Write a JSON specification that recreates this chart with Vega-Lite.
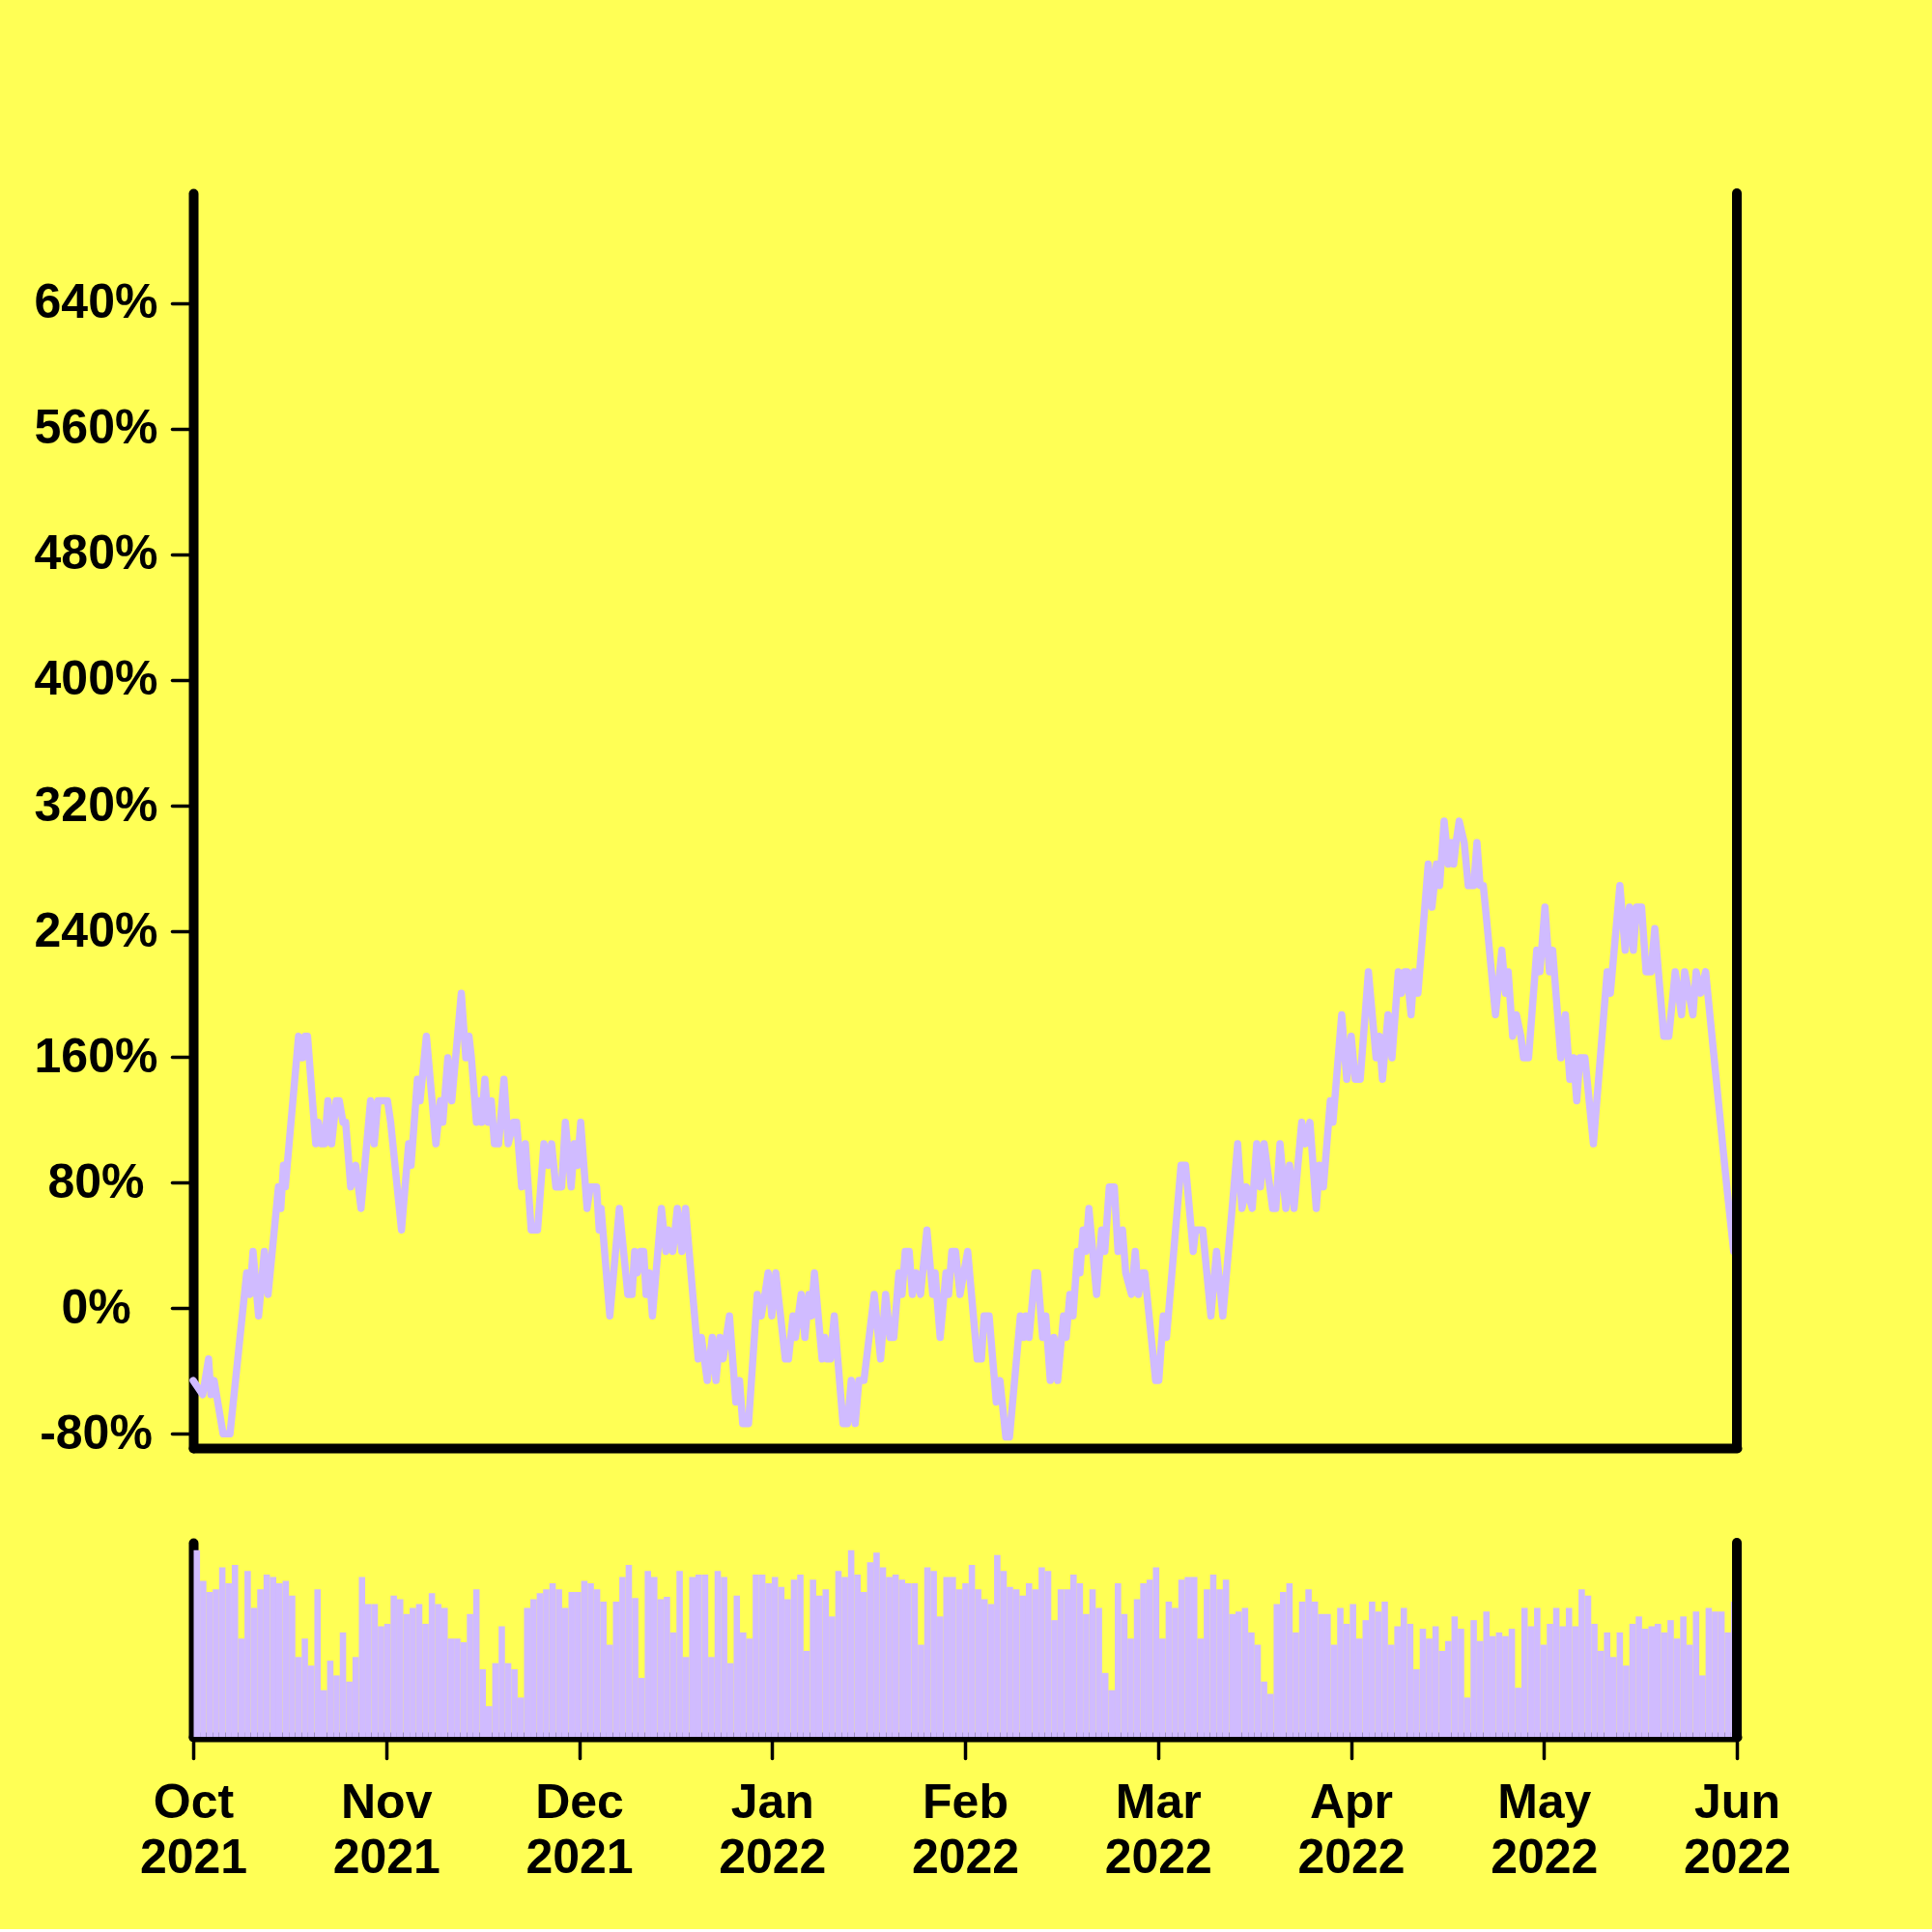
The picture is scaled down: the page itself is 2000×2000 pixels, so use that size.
{
  "$schema": "https://vega.github.io/schema/vega-lite/v6.json",
  "background": "#ffff55",
  "padding": {"left": 35, "top": 195, "right": 146, "bottom": 49},
  "spacing": 98,
  "bounds": "flush",
  "config": {
    "view": {"stroke": null},
    "font": "Liberation Sans",
    "axis": {
      "labelFont": "Liberation Sans",
      "labelFontSize": 50,
      "labelFontWeight": "bold",
      "labelColor": "black",
      "domainColor": "black",
      "domainWidth": 10,
      "domainCap": "round",
      "tickColor": "black",
      "tickWidth": 3.5,
      "tickSize": 22,
      "tickCap": "round",
      "grid": false,
      "title": null,
      "zindex": 1
    }
  },
  "vconcat": [
    {
      "width": 1598,
      "height": 1299,
      "layer": [
        {
          "data": {
            "format": {"parse": {"t": "date:'%Y-%m-%d %H'"}},
            "values": [
              {"t": "2021-10-01 00", "v": -46}, {"t": "2021-10-02 12", "v": -55}, {"t": "2021-10-03 10", "v": -32.3}, {"t": "2021-10-03 19", "v": -55}, {"t": "2021-10-04 07", "v": -46}, {"t": "2021-10-05 17", "v": -80}, {"t": "2021-10-06 19", "v": -80}, {"t": "2021-10-09 10", "v": 22.5}, {"t": "2021-10-09 22", "v": 8.8}, {"t": "2021-10-10 10", "v": 36.2}, {"t": "2021-10-11 07", "v": -4.9}, {"t": "2021-10-12 05", "v": 36.2}, {"t": "2021-10-12 19", "v": 8.8}, {"t": "2021-10-14 10", "v": 77.3}, {"t": "2021-10-14 19", "v": 63.6}, {"t": "2021-10-15 05", "v": 91}, {"t": "2021-10-15 12", "v": 77.3}, {"t": "2021-10-17 14", "v": 173.2}, {"t": "2021-10-18 05", "v": 159.5}, {"t": "2021-10-18 14", "v": 173.2}, {"t": "2021-10-19 00", "v": 173.2}, {"t": "2021-10-20 07", "v": 104.7}, {"t": "2021-10-20 17", "v": 118.4}, {"t": "2021-10-21 05", "v": 104.7}, {"t": "2021-10-21 17", "v": 104.7}, {"t": "2021-10-22 05", "v": 132.1}, {"t": "2021-10-22 19", "v": 104.7}, {"t": "2021-10-23 12", "v": 132.1}, {"t": "2021-10-24 00", "v": 132.1}, {"t": "2021-10-24 14", "v": 118.4}, {"t": "2021-10-25 00", "v": 118.4}, {"t": "2021-10-25 19", "v": 77.3}, {"t": "2021-10-26 14", "v": 91}, {"t": "2021-10-27 10", "v": 63.6}, {"t": "2021-10-28 22", "v": 132.1}, {"t": "2021-10-29 12", "v": 104.7}, {"t": "2021-10-30 02", "v": 132.1}, {"t": "2021-10-31 14", "v": 132.1},
              {"t": "2021-11-01 02", "v": 118.4}, {"t": "2021-11-02 19", "v": 49.9}, {"t": "2021-11-03 22", "v": 104.7}, {"t": "2021-11-04 07", "v": 91}, {"t": "2021-11-05 07", "v": 145.8}, {"t": "2021-11-05 17", "v": 132.1}, {"t": "2021-11-06 17", "v": 173.2}, {"t": "2021-11-08 05", "v": 104.7}, {"t": "2021-11-08 22", "v": 132.1}, {"t": "2021-11-09 07", "v": 118.4}, {"t": "2021-11-10 02", "v": 159.5}, {"t": "2021-11-10 17", "v": 132.1}, {"t": "2021-11-12 05", "v": 200.6}, {"t": "2021-11-12 22", "v": 159.5}, {"t": "2021-11-13 10", "v": 173.2}, {"t": "2021-11-13 19", "v": 159.5}, {"t": "2021-11-14 14", "v": 118.4}, {"t": "2021-11-15 02", "v": 132.1}, {"t": "2021-11-15 10", "v": 118.4}, {"t": "2021-11-15 22", "v": 145.8}, {"t": "2021-11-16 10", "v": 118.4}, {"t": "2021-11-16 22", "v": 132.1}, {"t": "2021-11-17 10", "v": 104.7}, {"t": "2021-11-18 02", "v": 104.7}, {"t": "2021-11-18 22", "v": 145.8}, {"t": "2021-11-19 14", "v": 104.7}, {"t": "2021-11-20 10", "v": 118.4}, {"t": "2021-11-20 22", "v": 118.4}, {"t": "2021-11-21 17", "v": 77.3}, {"t": "2021-11-22 07", "v": 104.7}, {"t": "2021-11-23 05", "v": 49.9}, {"t": "2021-11-24 05", "v": 49.9}, {"t": "2021-11-25 05", "v": 104.7}, {"t": "2021-11-25 22", "v": 91}, {"t": "2021-11-26 10", "v": 104.7}, {"t": "2021-11-27 02", "v": 77.3}, {"t": "2021-11-28 00", "v": 77.3}, {"t": "2021-11-28 14", "v": 118.4}, {"t": "2021-11-29 12", "v": 77.3}, {"t": "2021-11-30 00", "v": 104.7}, {"t": "2021-11-30 12", "v": 91},
              {"t": "2021-12-01 00", "v": 118.4}, {"t": "2021-12-02 00", "v": 63.6}, {"t": "2021-12-02 12", "v": 77.3}, {"t": "2021-12-03 12", "v": 77.3}, {"t": "2021-12-03 22", "v": 49.9}, {"t": "2021-12-04 05", "v": 63.6}, {"t": "2021-12-05 14", "v": -4.9}, {"t": "2021-12-07 02", "v": 63.6}, {"t": "2021-12-08 10", "v": 8.8}, {"t": "2021-12-09 02", "v": 8.8}, {"t": "2021-12-09 12", "v": 36.2}, {"t": "2021-12-09 22", "v": 22.5}, {"t": "2021-12-10 10", "v": 36.2}, {"t": "2021-12-10 22", "v": 36.2}, {"t": "2021-12-11 07", "v": 8.8}, {"t": "2021-12-11 19", "v": 22.5}, {"t": "2021-12-12 07", "v": -4.9}, {"t": "2021-12-13 17", "v": 63.6}, {"t": "2021-12-14 10", "v": 36.2}, {"t": "2021-12-14 19", "v": 49.9}, {"t": "2021-12-15 12", "v": 36.2}, {"t": "2021-12-16 05", "v": 63.6}, {"t": "2021-12-16 22", "v": 36.2}, {"t": "2021-12-17 12", "v": 63.6}, {"t": "2021-12-19 12", "v": -32.3}, {"t": "2021-12-20 00", "v": -18.6}, {"t": "2021-12-20 22", "v": -46}, {"t": "2021-12-21 17", "v": -18.6}, {"t": "2021-12-22 07", "v": -46}, {"t": "2021-12-22 22", "v": -18.6}, {"t": "2021-12-23 10", "v": -32.3}, {"t": "2021-12-23 22", "v": -18.6}, {"t": "2021-12-24 10", "v": -4.9}, {"t": "2021-12-25 10", "v": -59.7}, {"t": "2021-12-26 00", "v": -46}, {"t": "2021-12-26 12", "v": -73.4}, {"t": "2021-12-27 10", "v": -73.4}, {"t": "2021-12-28 19", "v": 8.8}, {"t": "2021-12-29 10", "v": -4.9}, {"t": "2021-12-30 00", "v": 8.8}, {"t": "2021-12-30 12", "v": 22.5}, {"t": "2021-12-31 02", "v": -4.9}, {"t": "2021-12-31 17", "v": 22.5},
              {"t": "2022-01-02 05", "v": -32.3}, {"t": "2022-01-02 17", "v": -32.3}, {"t": "2022-01-03 10", "v": -4.9}, {"t": "2022-01-03 19", "v": -18.6}, {"t": "2022-01-04 17", "v": 8.8}, {"t": "2022-01-05 07", "v": -18.6}, {"t": "2022-01-05 22", "v": 8.8}, {"t": "2022-01-06 07", "v": -4.9}, {"t": "2022-01-06 19", "v": 22.5}, {"t": "2022-01-08 00", "v": -32.3}, {"t": "2022-01-08 10", "v": -18.6}, {"t": "2022-01-08 19", "v": -32.3}, {"t": "2022-01-09 07", "v": -32.3}, {"t": "2022-01-09 22", "v": -4.9}, {"t": "2022-01-11 07", "v": -73.4}, {"t": "2022-01-12 00", "v": -73.4}, {"t": "2022-01-12 14", "v": -46}, {"t": "2022-01-13 05", "v": -73.4}, {"t": "2022-01-13 19", "v": -46}, {"t": "2022-01-14 14", "v": -46}, {"t": "2022-01-16 05", "v": 8.8}, {"t": "2022-01-17 05", "v": -32.3}, {"t": "2022-01-18 00", "v": 8.8}, {"t": "2022-01-18 17", "v": -18.6}, {"t": "2022-01-19 07", "v": -18.6}, {"t": "2022-01-20 02", "v": 22.5}, {"t": "2022-01-20 14", "v": 8.8}, {"t": "2022-01-21 02", "v": 36.2}, {"t": "2022-01-21 17", "v": 36.2}, {"t": "2022-01-22 05", "v": 8.8}, {"t": "2022-01-22 19", "v": 22.5}, {"t": "2022-01-23 12", "v": 8.8}, {"t": "2022-01-24 12", "v": 49.9}, {"t": "2022-01-25 10", "v": 8.8}, {"t": "2022-01-25 19", "v": 22.5}, {"t": "2022-01-26 14", "v": -18.6}, {"t": "2022-01-27 12", "v": 22.5}, {"t": "2022-01-27 22", "v": 8.8}, {"t": "2022-01-28 10", "v": 36.2}, {"t": "2022-01-29 00", "v": 36.2}, {"t": "2022-01-29 17", "v": 8.8}, {"t": "2022-01-30 22", "v": 36.2},
              {"t": "2022-02-01 10", "v": -32.3}, {"t": "2022-02-02 02", "v": -32.3}, {"t": "2022-02-02 12", "v": -4.9}, {"t": "2022-02-03 07", "v": -4.9}, {"t": "2022-02-04 10", "v": -59.7}, {"t": "2022-02-05 00", "v": -46}, {"t": "2022-02-05 22", "v": -82}, {"t": "2022-02-06 12", "v": -82}, {"t": "2022-02-08 05", "v": -4.9}, {"t": "2022-02-08 17", "v": -18.6}, {"t": "2022-02-09 02", "v": -4.9}, {"t": "2022-02-09 14", "v": -18.6}, {"t": "2022-02-10 12", "v": 22.5}, {"t": "2022-02-10 22", "v": 22.5}, {"t": "2022-02-11 17", "v": -18.6}, {"t": "2022-02-12 05", "v": -4.9}, {"t": "2022-02-12 22", "v": -46}, {"t": "2022-02-13 12", "v": -18.6}, {"t": "2022-02-14 02", "v": -46}, {"t": "2022-02-15 00", "v": -4.9}, {"t": "2022-02-15 10", "v": -18.6}, {"t": "2022-02-16 00", "v": 8.8}, {"t": "2022-02-16 12", "v": -4.9}, {"t": "2022-02-17 05", "v": 36.2}, {"t": "2022-02-17 14", "v": 22.5}, {"t": "2022-02-18 02", "v": 49.9}, {"t": "2022-02-18 12", "v": 36.2}, {"t": "2022-02-19 00", "v": 63.6}, {"t": "2022-02-20 05", "v": 8.8}, {"t": "2022-02-21 00", "v": 49.9}, {"t": "2022-02-21 12", "v": 36.2}, {"t": "2022-02-22 05", "v": 77.3}, {"t": "2022-02-23 00", "v": 77.3}, {"t": "2022-02-23 14", "v": 36.2}, {"t": "2022-02-24 07", "v": 49.9}, {"t": "2022-02-24 19", "v": 22.5}, {"t": "2022-02-25 17", "v": 8.8}, {"t": "2022-02-26 07", "v": 36.2}, {"t": "2022-02-26 19", "v": 8.8}, {"t": "2022-02-27 10", "v": 22.5}, {"t": "2022-02-27 19", "v": 22.5},
              {"t": "2022-03-01 12", "v": -46}, {"t": "2022-03-02 00", "v": -46}, {"t": "2022-03-02 17", "v": -4.9}, {"t": "2022-03-03 05", "v": -18.6}, {"t": "2022-03-05 12", "v": 91}, {"t": "2022-03-06 05", "v": 91}, {"t": "2022-03-07 10", "v": 36.2}, {"t": "2022-03-07 19", "v": 49.9}, {"t": "2022-03-08 22", "v": 49.9}, {"t": "2022-03-10 05", "v": -4.9}, {"t": "2022-03-11 02", "v": 36.2}, {"t": "2022-03-12 02", "v": -4.9}, {"t": "2022-03-14 10", "v": 104.7}, {"t": "2022-03-15 02", "v": 63.6}, {"t": "2022-03-15 19", "v": 77.3}, {"t": "2022-03-16 17", "v": 63.6}, {"t": "2022-03-17 10", "v": 104.7}, {"t": "2022-03-18 00", "v": 77.3}, {"t": "2022-03-18 14", "v": 104.7}, {"t": "2022-03-19 22", "v": 63.6}, {"t": "2022-03-20 10", "v": 63.6}, {"t": "2022-03-21 02", "v": 104.7}, {"t": "2022-03-22 00", "v": 63.6}, {"t": "2022-03-22 14", "v": 91}, {"t": "2022-03-23 07", "v": 63.6}, {"t": "2022-03-24 12", "v": 118.4}, {"t": "2022-03-25 02", "v": 104.7}, {"t": "2022-03-25 19", "v": 118.4}, {"t": "2022-03-26 19", "v": 63.6}, {"t": "2022-03-27 07", "v": 91}, {"t": "2022-03-27 22", "v": 77.3}, {"t": "2022-03-29 00", "v": 132.1}, {"t": "2022-03-29 10", "v": 118.4}, {"t": "2022-03-30 19", "v": 186.9}, {"t": "2022-03-31 14", "v": 145.8},
              {"t": "2022-04-01 07", "v": 173.2}, {"t": "2022-04-01 22", "v": 145.8}, {"t": "2022-04-02 17", "v": 145.8}, {"t": "2022-04-04 00", "v": 214.3}, {"t": "2022-04-05 05", "v": 159.5}, {"t": "2022-04-05 17", "v": 173.2}, {"t": "2022-04-06 05", "v": 145.8}, {"t": "2022-04-07 02", "v": 186.9}, {"t": "2022-04-07 17", "v": 159.5}, {"t": "2022-04-08 17", "v": 214.3}, {"t": "2022-04-09 05", "v": 200.6}, {"t": "2022-04-09 17", "v": 214.3}, {"t": "2022-04-10 02", "v": 214.3}, {"t": "2022-04-10 17", "v": 186.9}, {"t": "2022-04-11 05", "v": 214.3}, {"t": "2022-04-11 19", "v": 200.6}, {"t": "2022-04-13 10", "v": 282.8}, {"t": "2022-04-14 00", "v": 255.4}, {"t": "2022-04-14 17", "v": 282.8}, {"t": "2022-04-15 05", "v": 269.1}, {"t": "2022-04-15 22", "v": 310.2}, {"t": "2022-04-16 14", "v": 282.8}, {"t": "2022-04-17 00", "v": 296.5}, {"t": "2022-04-17 10", "v": 282.8}, {"t": "2022-04-17 19", "v": 296.5}, {"t": "2022-04-18 07", "v": 310.2}, {"t": "2022-04-19 02", "v": 296.5}, {"t": "2022-04-19 17", "v": 269.1}, {"t": "2022-04-20 14", "v": 269.1}, {"t": "2022-04-21 02", "v": 296.5}, {"t": "2022-04-21 14", "v": 269.1}, {"t": "2022-04-22 02", "v": 269.1}, {"t": "2022-04-22 10", "v": 255.4}, {"t": "2022-04-24 00", "v": 186.9}, {"t": "2022-04-25 00", "v": 228}, {"t": "2022-04-25 14", "v": 200.6}, {"t": "2022-04-26 00", "v": 214.3}, {"t": "2022-04-26 17", "v": 173.2}, {"t": "2022-04-27 07", "v": 186.9}, {"t": "2022-04-28 00", "v": 173.2}, {"t": "2022-04-28 10", "v": 159.5}, {"t": "2022-04-29 05", "v": 159.5}, {"t": "2022-04-30 12", "v": 228},
              {"t": "2022-05-01 00", "v": 214.3}, {"t": "2022-05-01 19", "v": 255.4}, {"t": "2022-05-02 12", "v": 214.3}, {"t": "2022-05-03 00", "v": 228}, {"t": "2022-05-04 07", "v": 159.5}, {"t": "2022-05-05 00", "v": 186.9}, {"t": "2022-05-05 17", "v": 145.8}, {"t": "2022-05-06 07", "v": 159.5}, {"t": "2022-05-06 19", "v": 132.1}, {"t": "2022-05-07 07", "v": 159.5}, {"t": "2022-05-08 02", "v": 159.5}, {"t": "2022-05-09 10", "v": 104.7}, {"t": "2022-05-11 14", "v": 214.3}, {"t": "2022-05-12 02", "v": 200.6}, {"t": "2022-05-13 14", "v": 269.1}, {"t": "2022-05-14 10", "v": 228}, {"t": "2022-05-15 02", "v": 255.4}, {"t": "2022-05-15 17", "v": 228}, {"t": "2022-05-16 05", "v": 255.4}, {"t": "2022-05-17 00", "v": 255.4}, {"t": "2022-05-17 17", "v": 214.3}, {"t": "2022-05-18 12", "v": 214.3}, {"t": "2022-05-19 02", "v": 241.7}, {"t": "2022-05-20 12", "v": 173.2}, {"t": "2022-05-21 07", "v": 173.2}, {"t": "2022-05-22 07", "v": 214.3}, {"t": "2022-05-23 07", "v": 186.9}, {"t": "2022-05-23 19", "v": 214.3}, {"t": "2022-05-25 02", "v": 186.9}, {"t": "2022-05-25 14", "v": 214.3}, {"t": "2022-05-26 07", "v": 200.6}, {"t": "2022-05-27 02", "v": 214.3}, {"t": "2022-05-30 02", "v": 91}, {"t": "2022-05-30 10", "v": 77.3}, {"t": "2022-05-31 12", "v": 36.2}
            ]
          },
          "mark": {"type": "line", "color": "#d0bbff", "strokeWidth": 7.5, "strokeCap": "round", "strokeJoin": "round"},
          "encoding": {
            "x": {
              "field": "t",
              "type": "temporal",
              "scale": {"domain": [{"year": 2021, "month": "oct", "date": 1}, {"year": 2022, "month": "jun", "date": 1}]},
              "axis": {"labels": false, "ticks": false, "title": null}
            },
            "y": {
              "field": "v",
              "type": "quantitative",
              "scale": {"domain": [-89, 710], "nice": false, "zero": false},
              "axis": {
                "values": [-80, 0, 80, 160, 240, 320, 400, 480, 560, 640],
                "labelExpr": "datum.value + '%'",
                "labelAlign": "center",
                "labelPadding": 79,
                "title": null
              }
            }
          }
        },
        {
          "data": {"values": [{}]},
          "mark": {"type": "rule", "color": "black", "strokeWidth": 10, "strokeCap": "round"},
          "encoding": {
            "x": {"datum": {"year": 2022, "month": "jun", "date": 1}, "type": "temporal"}
          }
        }
      ]
    },
    {
      "width": 1598,
      "height": 201,
      "layer": [
        {
          "data": {
            "format": {"parse": {"d": "date:'%Y-%m-%d'"}},
            "values": [
              {"d": "2021-10-01", "b": 152}, {"d": "2021-10-02", "b": 127}, {"d": "2021-10-03", "b": 118}, {"d": "2021-10-04", "b": 120}, {"d": "2021-10-05", "b": 138}, {"d": "2021-10-06", "b": 125}, {"d": "2021-10-07", "b": 140}, {"d": "2021-10-08", "b": 80}, {"d": "2021-10-09", "b": 135}, {"d": "2021-10-10", "b": 105}, {"d": "2021-10-11", "b": 120}, {"d": "2021-10-12", "b": 132}, {"d": "2021-10-13", "b": 130}, {"d": "2021-10-14", "b": 125}, {"d": "2021-10-15", "b": 127}, {"d": "2021-10-16", "b": 115}, {"d": "2021-10-17", "b": 65}, {"d": "2021-10-18", "b": 80}, {"d": "2021-10-19", "b": 58}, {"d": "2021-10-20", "b": 120}, {"d": "2021-10-21", "b": 38}, {"d": "2021-10-22", "b": 62}, {"d": "2021-10-23", "b": 50}, {"d": "2021-10-24", "b": 85}, {"d": "2021-10-25", "b": 45}, {"d": "2021-10-26", "b": 65}, {"d": "2021-10-27", "b": 130}, {"d": "2021-10-28", "b": 108}, {"d": "2021-10-29", "b": 108}, {"d": "2021-10-30", "b": 90}, {"d": "2021-10-31", "b": 92},
              {"d": "2021-11-01", "b": 115}, {"d": "2021-11-02", "b": 112}, {"d": "2021-11-03", "b": 100}, {"d": "2021-11-04", "b": 105}, {"d": "2021-11-05", "b": 108}, {"d": "2021-11-06", "b": 92}, {"d": "2021-11-07", "b": 117}, {"d": "2021-11-08", "b": 108}, {"d": "2021-11-09", "b": 105}, {"d": "2021-11-10", "b": 80}, {"d": "2021-11-11", "b": 80}, {"d": "2021-11-12", "b": 77}, {"d": "2021-11-13", "b": 100}, {"d": "2021-11-14", "b": 120}, {"d": "2021-11-15", "b": 55}, {"d": "2021-11-16", "b": 25}, {"d": "2021-11-17", "b": 60}, {"d": "2021-11-18", "b": 90}, {"d": "2021-11-19", "b": 60}, {"d": "2021-11-20", "b": 55}, {"d": "2021-11-21", "b": 32}, {"d": "2021-11-22", "b": 105}, {"d": "2021-11-23", "b": 112}, {"d": "2021-11-24", "b": 117}, {"d": "2021-11-25", "b": 120}, {"d": "2021-11-26", "b": 125}, {"d": "2021-11-27", "b": 120}, {"d": "2021-11-28", "b": 105}, {"d": "2021-11-29", "b": 118}, {"d": "2021-11-30", "b": 118},
              {"d": "2021-12-01", "b": 127}, {"d": "2021-12-02", "b": 125}, {"d": "2021-12-03", "b": 120}, {"d": "2021-12-04", "b": 110}, {"d": "2021-12-05", "b": 75}, {"d": "2021-12-06", "b": 110}, {"d": "2021-12-07", "b": 130}, {"d": "2021-12-08", "b": 140}, {"d": "2021-12-09", "b": 113}, {"d": "2021-12-10", "b": 48}, {"d": "2021-12-11", "b": 135}, {"d": "2021-12-12", "b": 130}, {"d": "2021-12-13", "b": 112}, {"d": "2021-12-14", "b": 114}, {"d": "2021-12-15", "b": 85}, {"d": "2021-12-16", "b": 135}, {"d": "2021-12-17", "b": 65}, {"d": "2021-12-18", "b": 130}, {"d": "2021-12-19", "b": 132}, {"d": "2021-12-20", "b": 132}, {"d": "2021-12-21", "b": 65}, {"d": "2021-12-22", "b": 135}, {"d": "2021-12-23", "b": 130}, {"d": "2021-12-24", "b": 60}, {"d": "2021-12-25", "b": 115}, {"d": "2021-12-26", "b": 85}, {"d": "2021-12-27", "b": 80}, {"d": "2021-12-28", "b": 132}, {"d": "2021-12-29", "b": 132}, {"d": "2021-12-30", "b": 125}, {"d": "2021-12-31", "b": 130},
              {"d": "2022-01-01", "b": 122}, {"d": "2022-01-02", "b": 112}, {"d": "2022-01-03", "b": 128}, {"d": "2022-01-04", "b": 132}, {"d": "2022-01-05", "b": 70}, {"d": "2022-01-06", "b": 128}, {"d": "2022-01-07", "b": 115}, {"d": "2022-01-08", "b": 120}, {"d": "2022-01-09", "b": 98}, {"d": "2022-01-10", "b": 135}, {"d": "2022-01-11", "b": 130}, {"d": "2022-01-12", "b": 152}, {"d": "2022-01-13", "b": 132}, {"d": "2022-01-14", "b": 118}, {"d": "2022-01-15", "b": 142}, {"d": "2022-01-16", "b": 150}, {"d": "2022-01-17", "b": 138}, {"d": "2022-01-18", "b": 130}, {"d": "2022-01-19", "b": 132}, {"d": "2022-01-20", "b": 128}, {"d": "2022-01-21", "b": 125}, {"d": "2022-01-22", "b": 125}, {"d": "2022-01-23", "b": 75}, {"d": "2022-01-24", "b": 138}, {"d": "2022-01-25", "b": 135}, {"d": "2022-01-26", "b": 98}, {"d": "2022-01-27", "b": 130}, {"d": "2022-01-28", "b": 130}, {"d": "2022-01-29", "b": 120}, {"d": "2022-01-30", "b": 125}, {"d": "2022-01-31", "b": 140},
              {"d": "2022-02-01", "b": 120}, {"d": "2022-02-02", "b": 112}, {"d": "2022-02-03", "b": 108}, {"d": "2022-02-04", "b": 148}, {"d": "2022-02-05", "b": 135}, {"d": "2022-02-06", "b": 122}, {"d": "2022-02-07", "b": 120}, {"d": "2022-02-08", "b": 115}, {"d": "2022-02-09", "b": 125}, {"d": "2022-02-10", "b": 120}, {"d": "2022-02-11", "b": 138}, {"d": "2022-02-12", "b": 135}, {"d": "2022-02-13", "b": 95}, {"d": "2022-02-14", "b": 120}, {"d": "2022-02-15", "b": 120}, {"d": "2022-02-16", "b": 132}, {"d": "2022-02-17", "b": 125}, {"d": "2022-02-18", "b": 100}, {"d": "2022-02-19", "b": 120}, {"d": "2022-02-20", "b": 105}, {"d": "2022-02-21", "b": 52}, {"d": "2022-02-22", "b": 38}, {"d": "2022-02-23", "b": 125}, {"d": "2022-02-24", "b": 100}, {"d": "2022-02-25", "b": 80}, {"d": "2022-02-26", "b": 112}, {"d": "2022-02-27", "b": 125}, {"d": "2022-02-28", "b": 128},
              {"d": "2022-03-01", "b": 138}, {"d": "2022-03-02", "b": 80}, {"d": "2022-03-03", "b": 110}, {"d": "2022-03-04", "b": 105}, {"d": "2022-03-05", "b": 128}, {"d": "2022-03-06", "b": 130}, {"d": "2022-03-07", "b": 130}, {"d": "2022-03-08", "b": 80}, {"d": "2022-03-09", "b": 120}, {"d": "2022-03-10", "b": 132}, {"d": "2022-03-11", "b": 120}, {"d": "2022-03-12", "b": 128}, {"d": "2022-03-13", "b": 100}, {"d": "2022-03-14", "b": 102}, {"d": "2022-03-15", "b": 105}, {"d": "2022-03-16", "b": 85}, {"d": "2022-03-17", "b": 75}, {"d": "2022-03-18", "b": 45}, {"d": "2022-03-19", "b": 35}, {"d": "2022-03-20", "b": 108}, {"d": "2022-03-21", "b": 118}, {"d": "2022-03-22", "b": 125}, {"d": "2022-03-23", "b": 85}, {"d": "2022-03-24", "b": 110}, {"d": "2022-03-25", "b": 120}, {"d": "2022-03-26", "b": 110}, {"d": "2022-03-27", "b": 100}, {"d": "2022-03-28", "b": 100}, {"d": "2022-03-29", "b": 75}, {"d": "2022-03-30", "b": 105}, {"d": "2022-03-31", "b": 92},
              {"d": "2022-04-01", "b": 108}, {"d": "2022-04-02", "b": 80}, {"d": "2022-04-03", "b": 95}, {"d": "2022-04-04", "b": 110}, {"d": "2022-04-05", "b": 102}, {"d": "2022-04-06", "b": 110}, {"d": "2022-04-07", "b": 75}, {"d": "2022-04-08", "b": 90}, {"d": "2022-04-09", "b": 105}, {"d": "2022-04-10", "b": 92}, {"d": "2022-04-11", "b": 55}, {"d": "2022-04-12", "b": 88}, {"d": "2022-04-13", "b": 80}, {"d": "2022-04-14", "b": 90}, {"d": "2022-04-15", "b": 70}, {"d": "2022-04-16", "b": 78}, {"d": "2022-04-17", "b": 98}, {"d": "2022-04-18", "b": 88}, {"d": "2022-04-19", "b": 32}, {"d": "2022-04-20", "b": 95}, {"d": "2022-04-21", "b": 78}, {"d": "2022-04-22", "b": 102}, {"d": "2022-04-23", "b": 82}, {"d": "2022-04-24", "b": 85}, {"d": "2022-04-25", "b": 82}, {"d": "2022-04-26", "b": 88}, {"d": "2022-04-27", "b": 40}, {"d": "2022-04-28", "b": 105}, {"d": "2022-04-29", "b": 90}, {"d": "2022-04-30", "b": 105},
              {"d": "2022-05-01", "b": 75}, {"d": "2022-05-02", "b": 92}, {"d": "2022-05-03", "b": 105}, {"d": "2022-05-04", "b": 90}, {"d": "2022-05-05", "b": 105}, {"d": "2022-05-06", "b": 90}, {"d": "2022-05-07", "b": 120}, {"d": "2022-05-08", "b": 115}, {"d": "2022-05-09", "b": 92}, {"d": "2022-05-10", "b": 70}, {"d": "2022-05-11", "b": 85}, {"d": "2022-05-12", "b": 65}, {"d": "2022-05-13", "b": 85}, {"d": "2022-05-14", "b": 58}, {"d": "2022-05-15", "b": 92}, {"d": "2022-05-16", "b": 98}, {"d": "2022-05-17", "b": 88}, {"d": "2022-05-18", "b": 90}, {"d": "2022-05-19", "b": 92}, {"d": "2022-05-20", "b": 85}, {"d": "2022-05-21", "b": 95}, {"d": "2022-05-22", "b": 80}, {"d": "2022-05-23", "b": 98}, {"d": "2022-05-24", "b": 75}, {"d": "2022-05-25", "b": 102}, {"d": "2022-05-26", "b": 50}, {"d": "2022-05-27", "b": 105}, {"d": "2022-05-28", "b": 102}, {"d": "2022-05-29", "b": 102}, {"d": "2022-05-30", "b": 85}, {"d": "2022-05-31", "b": 110}
            ]
          },
          "mark": {"type": "bar", "color": "#d0bbff", "binSpacing": 0},
          "encoding": {
            "x": {
              "field": "d",
              "timeUnit": "yearmonthdate",
              "type": "temporal",
              "scale": {"domain": [{"year": 2021, "month": "oct", "date": 1}, {"year": 2022, "month": "jun", "date": 1}]},
              "axis": {
                "values": [
                  {"year": 2021, "month": "oct", "date": 1, "hours": 0},
                  {"year": 2021, "month": "oct", "date": 31, "hours": 9},
                  {"year": 2021, "month": "nov", "date": 30, "hours": 18},
                  {"year": 2021, "month": "dec", "date": 31, "hours": 3},
                  {"year": 2022, "month": "jan", "date": 30, "hours": 12},
                  {"year": 2022, "month": "mar", "date": 1, "hours": 21},
                  {"year": 2022, "month": "apr", "date": 1, "hours": 6},
                  {"year": 2022, "month": "may", "date": 1, "hours": 15},
                  {"year": 2022, "month": "jun", "date": 1, "hours": 0}
                ],
                "labelExpr": "[timeFormat(time(datum.value) + 1296000000, '%b'), timeFormat(time(datum.value) + 1296000000, '%Y')]",
                "labelPadding": 21,
                "labelLineHeight": 57,
                "labelFlush": false,
                "labelOverlap": false,
                "title": null
              }
            },
            "y": {
              "field": "b",
              "type": "quantitative",
              "scale": {"domain": [0, 158], "nice": false},
              "axis": {"labels": false, "ticks": false, "title": null}
            }
          }
        },
        {
          "data": {"values": [{}]},
          "mark": {"type": "rule", "color": "black", "strokeWidth": 10, "strokeCap": "round"},
          "encoding": {
            "x": {"datum": {"year": 2022, "month": "jun", "date": 1}, "type": "temporal"}
          }
        }
      ]
    }
  ]
}
